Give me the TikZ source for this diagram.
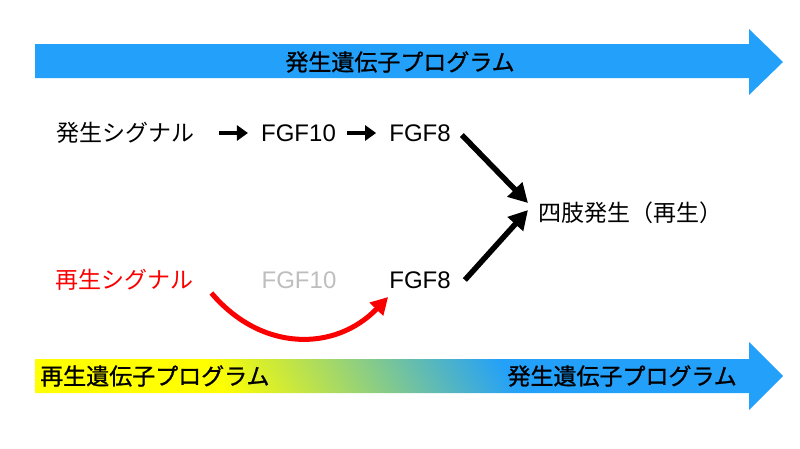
\documentclass[tikz,border=0pt]{standalone}
\usepackage{fontspec}
\setmainfont{Noto Sans CJK JP}
\newfontfamily\cjkm[FakeBold=1]{Noto Sans CJK JP}
\newfontfamily\latf{Liberation Sans}
\usetikzlibrary{arrows.meta,calc}
\definecolor{abblue}{RGB}{34,160,250}
\definecolor{ylw}{RGB}{255,255,0}
\definecolor{sigred}{RGB}{250,0,0}
\definecolor{fadegray}{RGB}{190,190,190}
\pgfdeclarehorizontalshading{ybshade}{100bp}{color(0bp)=(ylw); color(33bp)=(ylw); color(59bp)=(abblue); color(100bp)=(abblue)}
\tikzset{
  jtext/.style={inner sep=0pt, font=\fontsize{23}{26}\selectfont},
  ltext/.style={inner sep=0pt, font=\latf\fontsize{24}{27}\selectfont},
  bartext/.style={inner sep=0pt, font=\cjkm\fontsize{23}{26}\selectfont},
  smallarrow/.style={line width=4pt, -{Triangle[length=11pt,width=15pt]}},
  bigarrow/.style={line width=5.5pt, -{Triangle[length=19pt,width=20pt]}},
  redarrow/.style={line width=5pt, sigred, -{Triangle[length=17pt,width=18pt]}},
}
\begin{document}
\begin{tikzpicture}[x=1pt,y=-1pt]
\useasboundingbox (0,0) rectangle (800,448);
% top program arrow
\fill[abblue] (35,44) -- (749,44) -- (749,29) -- (783,62) -- (749,95) -- (749,78) -- (35,78) -- cycle;
\node[bartext] (topprog) at (400,62) {発生遺伝子プログラム};
% bottom program arrow (gradient)
\shade[shading=ybshade, shading angle=30] (35,359) -- (749,359) -- (749,342) -- (783,376) -- (749,410) -- (749,393) -- (35,393) -- cycle;
\node[bartext, anchor=west] (botprogL) at (40,376) {再生遺伝子プログラム};
\node[bartext, anchor=east] (botprogR) at (737,376) {発生遺伝子プログラム};
% row 1
\node[jtext, anchor=west] (sig1) at (56,133) {発生シグナル};
\node[ltext] (fgf10a) at (298.5,133) {FGF10};
\node[ltext] (fgf8a) at (420,133) {FGF8};
% row 2
\node[jtext, anchor=west, text=sigred] (sig2) at (55,280) {再生シグナル};
\node[ltext, text=fadegray] (fgf10b) at (299,280) {FGF10};
\node[ltext] (fgf8b) at (420,280) {FGF8};
% result
\node[jtext, anchor=west] (limb) at (538,213) {四肢発生（再生）};
% connectors
\draw[smallarrow] ($(sig1.east)+(25,0)$) -- ($(fgf10a.west)+(-13,0)$);
\draw[smallarrow] ($(fgf10a.east)+(11,0)$) -- ($(fgf8a.west)+(-13,0)$);
\draw[bigarrow] ($(fgf8a.east)+(11,2)$) -- ($(limb.west)+(-10,-10)$);
\draw[bigarrow] ($(fgf8b.east)+(14,0)$) -- ($(limb.west)+(-10,-3)$);
\draw[redarrow] ($(sig2.east)+(18,13)$) .. controls +(50,59) and +(-53,55) .. ($(fgf8b.west)+(-1,17)$);
\end{tikzpicture}
\end{document}
